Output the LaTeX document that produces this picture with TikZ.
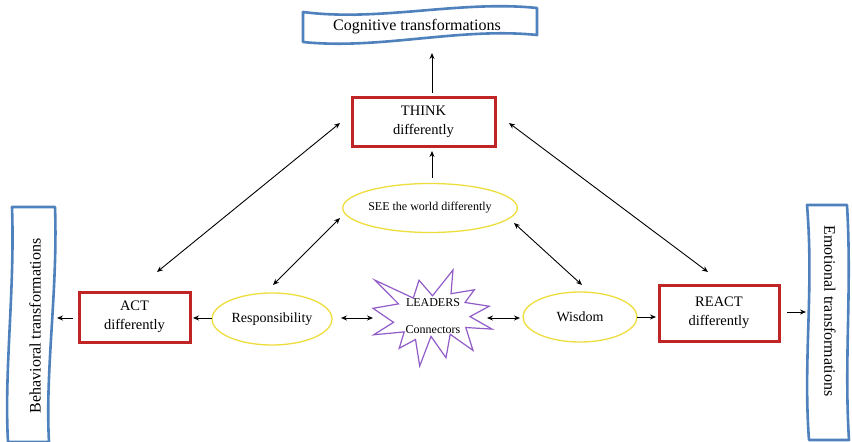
\documentclass[tikz,border=0pt]{standalone}
\usepackage{fontspec}
\setmainfont{Liberation Serif}
\usetikzlibrary{shapes.geometric,arrows.meta}
\definecolor{bannerblue}{RGB}{79,129,189}
\definecolor{boxred}{RGB}{192,36,36}
\definecolor{ellyellow}{RGB}{238,222,60}
\definecolor{starpurple}{RGB}{145,92,200}
\tikzset{
  banner/.style={draw=bannerblue,line width=2.6pt,line join=round,fill=white},
  redbox/.style={rectangle,draw=boxred,line width=3pt,align=center,inner sep=0pt,
    font=\fontsize{14.5}{19}\selectfont},
  yell/.style={ellipse,draw=ellyellow,line width=1.3pt,inner sep=0pt,align=center},
  arr/.style={-{Stealth[length=6pt,width=5pt]},line width=0.9pt},
  darr/.style={{Stealth[length=6pt,width=5pt]}-{Stealth[length=6pt,width=5pt]},line width=0.9pt},
  bantext/.style={font=\fontsize{16}{19}\selectfont,inner sep=0pt}
}
\begin{document}
\begin{tikzpicture}[x=1pt,y=-1pt]
\useasboundingbox (0,0) rectangle (852,442);
\fill[white] (0,0) rectangle (852,442);

% banners
\draw[banner] (303,12) .. controls (380,22) and (460,0) .. (537,8)
  -- (537,35) .. controls (460,27) and (380,50) .. (303,42) -- cycle;
\node[bantext] (cog) at (417,27) {Cognitive transformations};

\draw[banner] (12,207) -- (55,207) .. controls (58,290) and (45,370) .. (49,442)
  -- (8,442) .. controls (4,370) and (15,290) .. (12,207) -- cycle;
\node[bantext,rotate=90] (beh) at (35,326) {Behavioral transformations};

\draw[banner] (807,205) -- (847,205) .. controls (852,290) and (844,360) .. (849,440)
  -- (809,440) .. controls (803,360) and (814,290) .. (807,205) -- cycle;
\node[bantext,rotate=-90] (emo) at (830,311) {Emotional transformations};

% boxes
\node[redbox,minimum width=143pt,minimum height=49pt] (think) at (423.5,122) {THINK\\differently};
\node[redbox,minimum width=111pt,minimum height=50pt] (act) at (134.5,317) {ACT\\differently};
\node[redbox,minimum width=120pt,minimum height=56pt] (react) at (719,313) {REACT\\differently};

% ellipses
\node[yell,minimum width=166pt,minimum height=49pt,font=\fontsize{12}{14}\selectfont] (see) at (430,208) {SEE the world differently};
\node[yell,minimum width=120pt,minimum height=52pt,font=\fontsize{14}{16}\selectfont] (resp) at (272,319) {Responsibility};
\node[yell,minimum width=114pt,minimum height=50pt,font=\fontsize{14}{16}\selectfont] (wis) at (580,317) {Wisdom};

% starburst
\draw[draw=starpurple,line width=1.2pt,line join=miter]
  (432.5,295.8) -- (453.0,270) -- (451.0,293.7) -- (474.3,289.8) -- (465.0,302.5)
  -- (489.2,306.2) -- (470.0,316.6) -- (492.0,329.1) -- (465.8,327.5) -- (473.0,350.4)
  -- (450.2,334.3) -- (446.0,357.7) -- (431.0,336.4) -- (419.7,366.0) -- (415.5,339.5)
  -- (399.2,348.3) -- (404.2,331.9) -- (373.7,334.8) -- (393.5,322.3) -- (373.0,308.3)
  -- (398.5,303.9) -- (375.0,280.2) -- (413.3,298.1) -- (419.0,280.2) -- cycle;
\node[align=center,inner sep=0pt,font=\fontsize{12}{27}\selectfont] (star) at (433,316) {LEADERS\\Connectors};

% connector end points
\coordinate (cogb) at (432,53);
\coordinate (thinkt) at (432,93);
\coordinate (thinkb) at (432,151);
\coordinate (seet) at (432,178);
\coordinate (thinkl) at (340,123);
\coordinate (actt) at (157,272);
\coordinate (seel) at (340,218);
\coordinate (respt) at (273,285);
\coordinate (thinkr) at (509,123);
\coordinate (reactt) at (708,272);
\coordinate (seer) at (514,223);
\coordinate (wist) at (582,285);
\coordinate (respl) at (212,318);
\coordinate (actr) at (193,318);
\coordinate (respr) at (341,318);
\coordinate (starl) at (373,318);
\coordinate (starr) at (487,318);
\coordinate (wisl) at (520,318);
\coordinate (wisr) at (637,317);
\coordinate (reactl) at (656,317);
\coordinate (reactr) at (787,312);
\coordinate (emol) at (806,312);
\coordinate (actl) at (73,318);
\coordinate (behr) at (57,318);

% connectors
\draw[arr] (thinkt) -- (cogb);
\draw[arr] (seet) -- (thinkb);
\draw[darr] (actt) -- (thinkl);
\draw[darr] (respt) -- (seel);
\draw[darr] (thinkr) -- (reactt);
\draw[darr] (seer) -- (wist);
\draw[arr] (respl) -- (actr);
\draw[darr] (respr) -- (starl);
\draw[darr] (starr) -- (wisl);
\draw[arr] (wisr) -- (reactl);
\draw[arr] (reactr) -- (emol);
\draw[arr] (actl) -- (behr);
\end{tikzpicture}
\end{document}
